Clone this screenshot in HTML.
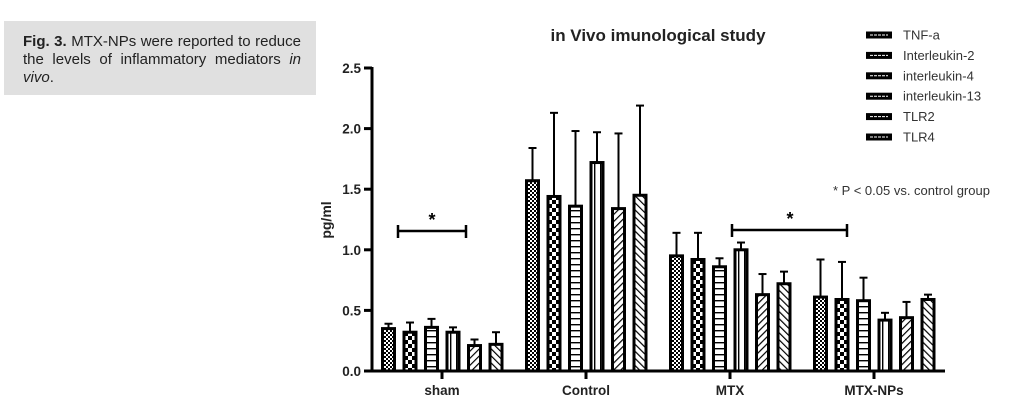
<!DOCTYPE html>
<html><head><meta charset="utf-8"><style>
body{margin:0;width:1027px;height:405px;background:#fff;overflow:hidden;position:relative;font-family:"Liberation Sans",sans-serif}
#cap{position:absolute;left:4px;top:21px;width:312px;height:74px;background:#e0e0e0;box-sizing:border-box;padding:12px 15px 0 19px;font-family:"Liberation Sans",sans-serif;font-size:15px;line-height:18px;color:#222}
#cap div{text-align:justify;text-align-last:justify;white-space:nowrap}
#cap div.last{text-align-last:left}
svg{position:absolute;left:0;top:0}
</style></head><body>
<div id="cap"><div><b>Fig. 3.</b> MTX-NPs were reported to reduce</div><div>the levels of inflammatory mediators <i>in</i></div><div class="last"><i>vivo</i>.</div></div>
<svg id="chart" width="1027" height="405">
<defs>
<pattern id="p0" width="4" height="4" patternUnits="userSpaceOnUse"><rect width="4" height="4" fill="#fff"/><rect width="2" height="2" fill="#000"/><rect x="2" y="2" width="2" height="2" fill="#000"/></pattern>
<pattern id="p1" width="8" height="8" patternUnits="userSpaceOnUse"><rect width="8" height="8" fill="#fff"/><rect width="4" height="4" fill="#000"/><rect x="4" y="4" width="4" height="4" fill="#000"/></pattern>
<pattern id="p2" width="6" height="6" patternUnits="userSpaceOnUse"><rect width="6" height="6" fill="#fff"/><rect y="0" width="6" height="1.4" fill="#000"/></pattern>
<pattern id="p3" width="6" height="6" patternUnits="userSpaceOnUse"><rect width="6" height="6" fill="#fff"/><rect x="0" width="1.4" height="6" fill="#000"/></pattern>
<pattern id="p4" width="5" height="5" patternUnits="userSpaceOnUse" patternTransform="rotate(45)"><rect width="5" height="5" fill="#fff"/><rect width="1.2" height="5" fill="#000"/></pattern>
<pattern id="p5" width="5" height="5" patternUnits="userSpaceOnUse" patternTransform="rotate(-45)"><rect width="5" height="5" fill="#fff"/><rect width="1.2" height="5" fill="#000"/></pattern>
</defs>
<g id="plot"></g>
</svg>
<script>
const groups=["sham","Control","MTX","MTX-NPs"];
const seriesNames=["TNF-a","Interleukin-2","interleukin-4","interleukin-13","TLR2","TLR4"];
const tnf=[0.35,1.57,0.95,0.61];
const il2=[0.32,1.44,0.92,0.59];
const il4=[0.36,1.36,0.86,0.58];
const il13=[0.32,1.72,1.00,0.42];
const tlr2=[0.21,1.34,0.63,0.44];
const tlr4=[0.22,1.45,0.72,0.59];
const tnfErr=[0.04,0.27,0.19,0.31];
const il2Err=[0.08,0.69,0.22,0.31];
const il4Err=[0.07,0.62,0.07,0.19];
const il13Err=[0.04,0.25,0.06,0.06];
const tlr2Err=[0.05,0.62,0.17,0.13];
const tlr4Err=[0.10,0.74,0.10,0.04];
const yTicks=["0.0","0.5","1.0","1.5","2.0","2.5"];
const series=[tnf,il2,il4,il13,tlr2,tlr4];
const errs=[tnfErr,il2Err,il4Err,il13Err,tlr2Err,tlr4Err];
const NS="http://www.w3.org/2000/svg";
const g=document.getElementById('plot');
function y(v){return 371-v*(303/2.5);}
function x(gi){return 442+gi*144;}
function mk(t,a,txt){const e=document.createElementNS(NS,t);for(const k in a)e.setAttribute(k,a[k]);if(txt!==undefined)e.textContent=txt;g.appendChild(e);return e;}
let t=mk('text',{x:658,y:41,'text-anchor':'middle','font-size':'17','font-weight':'bold',fill:'#222'},'in Vivo imunological study');


let ax=mk('line',{x1:372,y1:67,x2:372,y2:372,stroke:'#000','stroke-width':3});


yTicks.forEach((lab,i)=>{const v=parseFloat(lab);
 let tk=mk('line',{x1:364,y1:y(v),x2:372,y2:y(v),stroke:'#000','stroke-width':3});
 
 
 let tl=mk('text',{x:361,y:y(v)+5,'text-anchor':'end','font-size':'13.5','font-weight':'bold',fill:'#222'},lab);
 
 
});
let yt=mk('text',{x:0,y:0,transform:'translate(331,220) rotate(-90)','text-anchor':'middle','font-size':'14','font-weight':'bold',fill:'#222'},'pg/ml');


let xa=mk('line',{x1:371,y1:371,x2:945,y2:371,stroke:'#000','stroke-width':3});


groups.forEach((gn,gi)=>{
 let tk=mk('line',{x1:x(gi),y1:371,x2:x(gi),y2:379,stroke:'#000','stroke-width':3});
 
 
 let tl=mk('text',{x:x(gi),y:395,'text-anchor':'middle','font-size':'13.5','font-weight':'bold',fill:'#222'},gn);
 
 
 series.forEach((s,si)=>{
  const cx=x(gi)-53.5+si*21.5, v=s[gi], e=errs[si][gi];
  let el=mk('line',{x1:cx,y1:y(v),x2:cx,y2:y(v+e),stroke:'#000','stroke-width':2});
  
  
  let ec=mk('line',{x1:cx-4,y1:y(v+e),x2:cx+4,y2:y(v+e),stroke:'#000','stroke-width':2});
  
  
  let b=mk('rect',{x:cx-6,y:y(v),width:12,height:371-y(v),fill:'url(#p'+si+')',stroke:'#000','stroke-width':3});
  
  
 });
});
function bracket(x1,x2,yy,sx){
 let l=mk('path',{d:`M${x1} ${yy-6}V${yy+7}M${x1} ${yy}H${x2}M${x2} ${yy-6}V${yy+7}`,stroke:'#000','stroke-width':2.5,fill:'none'});
 
 
 let s=mk('text',{x:sx,y:yy-5,'text-anchor':'middle','font-size':'18','font-weight':'bold'},'*');
 
 
}
bracket(398,466,231,432);
bracket(732,847,230,790);
seriesNames.forEach((n,i)=>{
 const ly=35+i*20.4;
 let r=mk('rect',{x:866,y:ly-3.5,width:26,height:7,fill:'#000'});
 
 
 let r2=mk('line',{x1:870,y1:ly,x2:888,y2:ly,stroke:'#fff','stroke-width':1,'stroke-dasharray':'3 1'});
 
 
 let tx=mk('text',{x:903,y:ly+4.5,'font-size':'13',fill:'#333'},n);
 
 
});
let fn=mk('text',{x:833,y:195,'font-size':'13',fill:'#333'},'* P < 0.05 vs. control group');


</script>
</body></html>
